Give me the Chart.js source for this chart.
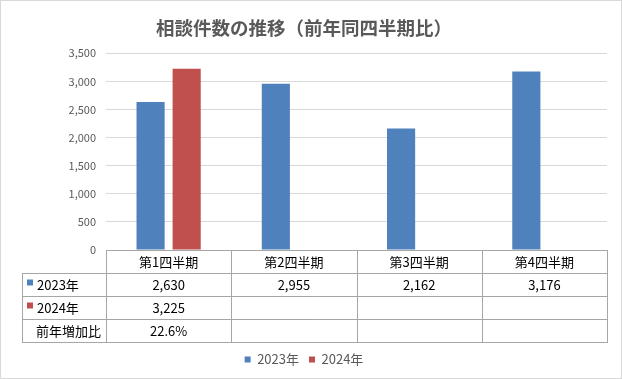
<!DOCTYPE html>
<html>
<head>
<meta charset="utf-8">
<script src="https://cdn.jsdelivr.net/npm/chart.js@4.4.1/dist/chart.umd.min.js"></script>
<style>
    html, body { margin: 0; padding: 0; background: #fff; }
    .chartbox { width: 622px; height: 379px; box-sizing: border-box; border: 1px solid #d9d9d9; }
    .chartbox canvas { display: block; }
</style>
</head>
<body>
<div class="chartbox"><canvas id="myChart" width="620" height="377"></canvas></div>
<script>
var categories = ['第1四半期', '第2四半期', '第3四半期', '第4四半期'];
var seriesNames = ['2023年', '2024年'];
var values2023 = [2630, 2955, 2162, 3176];
var values2024 = [3225, null, null, null];
var yTicks = [0, 500, 1000, 1500, 2000, 2500, 3000, 3500];
var growthLabel = '前年増加比';

var fontFamily = "'Noto Sans CJK JP', 'Noto Sans', sans-serif";
var colors = ['#4f81bd', '#c0504d'];

function fmt(v) {
    return v == null ? '' : v.toLocaleString('en-US');
}

// data table drawn under the plot, columns follow the x scale
var dataTable = {
    id: 'dataTable',
    afterDraw: function (chart) {
        var ctx = chart.ctx;
        var area = chart.chartArea;
        var xs = chart.scales.x;
        var colW = (area.right - area.left) / categories.length;
        var top = Math.round(area.bottom);
        var rowH = 23;
        var leftX = 21.5;
        var rows = [values2023, values2024];
        var growth = values2023.map(function (v, i) {
            var b = values2024[i];
            return (v && b != null) ? ((b / v - 1) * 100).toFixed(1) + '%' : '';
        });

        ctx.save();
        ctx.strokeStyle = '#a6a6a6';
        ctx.lineWidth = 1;
        ctx.beginPath();
        // horizontal lines
        ctx.moveTo(area.left, top + 0.5);
        ctx.lineTo(area.right, top + 0.5);
        for (var r = 1; r <= 4; r++) {
            ctx.moveTo(leftX, top + r * rowH + 0.5);
            ctx.lineTo(area.right, top + r * rowH + 0.5);
        }
        // vertical lines
        ctx.moveTo(leftX, top + rowH);
        ctx.lineTo(leftX, top + 4 * rowH + 1);
        for (var c = 0; c <= categories.length; c++) {
            var lx = Math.round(area.left + c * colW) + 0.5;
            ctx.moveTo(lx, top);
            ctx.lineTo(lx, top + 4 * rowH + 1);
        }
        ctx.stroke();

        ctx.font = '13px ' + fontFamily;
        ctx.fillStyle = '#000';
        ctx.textBaseline = 'middle';
        ctx.textAlign = 'center';
        categories.forEach(function (cat, i) {
            var cx = xs.getPixelForValue(i);
            ctx.fillText(cat, cx, top + rowH / 2 + 1);
            ctx.fillText(fmt(values2023[i]), cx, top + rowH * 1.5 + 1);
            ctx.fillText(fmt(values2024[i]), cx, top + rowH * 2.5 + 1);
            ctx.fillText(growth[i], cx, top + rowH * 3.5 + 1);
        });

        ctx.textAlign = 'left';
        rows.forEach(function (row, r) {
            var cy = top + rowH * (r + 1.5);
            ctx.fillStyle = colors[r];
            ctx.fillRect(26, cy - 5, 6, 6);
            ctx.fillStyle = '#000';
            ctx.fillText(seriesNames[r], 36, cy + 1);
        });
        ctx.fillText(growthLabel, 35, top + rowH * 3.5 + 1);
        ctx.restore();
    }
};

var ctx = document.getElementById('myChart').getContext('2d');
var myChart = new Chart(ctx, {
    type: 'bar',
    data: {
        labels: categories,
        datasets: [{
            label: seriesNames[0],
            data: values2023,
            backgroundColor: colors[0],
            categoryPercentage: 0.576,
            barPercentage: 0.78
        }, {
            label: seriesNames[1],
            data: values2024,
            backgroundColor: colors[1],
            categoryPercentage: 0.576,
            barPercentage: 0.78
        }]
    },
    options: {
        responsive: false,
        animation: false,
        layout: {
            padding: { left: 0, right: 14, top: 0, bottom: 2 }
        },
        scales: {
            x: {
                grid: { display: false },
                border: { display: false },
                ticks: { display: false },
                afterFit: function (scale) { scale.height = 93; }
            },
            y: {
                min: 0,
                max: 3500,
                afterBuildTicks: function (scale) {
                    scale.ticks = yTicks.map(function (v) { return { value: v }; });
                },
                grid: { color: '#d9d9d9', drawTicks: false },
                border: { display: false },
                ticks: {
                    padding: 10,
                    color: '#595959',
                    font: { size: 11, family: fontFamily },
                    callback: function (v) { return fmt(v); }
                },
                afterFit: function (scale) { scale.width = 105; }
            }
        },
        plugins: {
            title: {
                display: true,
                text: '相談件数の推移（前年同四半期比）',
                color: '#595959',
                font: { size: 18.5, weight: 'bold', family: fontFamily },
                padding: { top: 16, bottom: 14 }
            },
            legend: {
                position: 'bottom',
                labels: {
                    boxWidth: 6,
                    boxHeight: 6,
                    color: '#595959',
                    padding: 10,
                    font: { size: 13, family: fontFamily }
                }
            },
            tooltip: { enabled: false }
        }
    },
    plugins: [dataTable]
});
</script>
</body>
</html>
